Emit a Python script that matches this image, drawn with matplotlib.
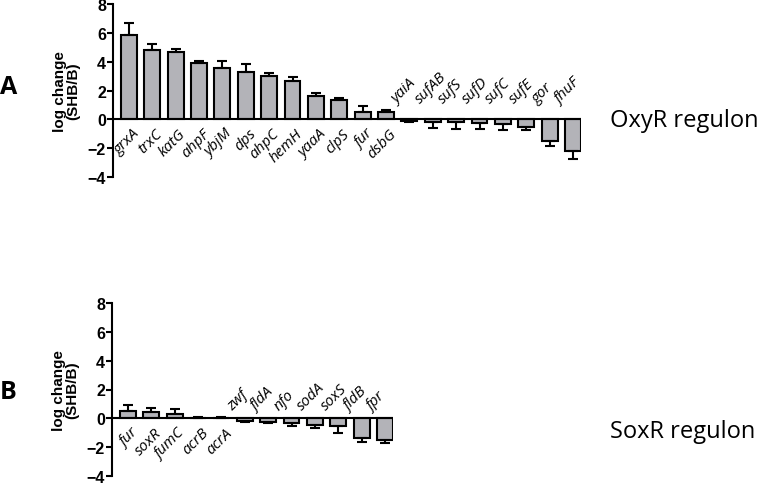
# Regulones OxyR y SoxR - cambio logaritmico SHB/B
import matplotlib
matplotlib.use("Agg")
import matplotlib.pyplot as plt
import numpy as np

# -----------------------------------------
# Datos
# -----------------------------------------
genes_oxyr = ["grxA", "trxC", "katG", "ahpF", "ybjM", "dps", "ahpC", "hemH",
              "yaaA", "clpS", "fur", "dsbG", "yaiA", "sufAB", "sufS", "sufD",
              "sufC", "sufE", "gor", "fhuF"]
valores_oxyr = [5.88, 4.8, 4.7, 3.93, 3.55, 3.28, 3.0, 2.63, 1.62, 1.33, 0.5,
                0.52, -0.12, -0.2, -0.2, -0.25, -0.35, -0.55, -1.49, -2.18]
errores_oxyr = [0.78, 0.42, 0.2, 0.1, 0.5, 0.56, 0.24, 0.29, 0.24, 0.17, 0.42,
                0.1, 0.08, 0.42, 0.45, 0.45, 0.42, 0.17, 0.36, 0.55]

genes_soxr = ["fur", "soxR", "fumC", "acrB", "acrA", "zwf", "fldA", "nfo",
              "sodA", "soxS", "fldB", "fpr"]
valores_soxr = [0.49, 0.44, 0.33, 0.05, 0.03, -0.2, -0.22, -0.33, -0.45,
                -0.55, -1.35, -1.52]
errores_soxr = [0.44, 0.3, 0.3, 0.05, 0.03, 0.08, 0.12, 0.17, 0.22, 0.5,
                0.27, 0.2]

GRIS = "#b3b3b8"
ANCHO = 0.68


def panel(ax, genes, valores, errores, sep_neg):
    x = np.arange(len(genes))
    v = np.array(valores)
    e = np.array(errores)
    abajo = np.where(v < 0, e, 0)
    arriba = np.where(v >= 0, e, 0)
    ax.bar(x, v, width=ANCHO, color=GRIS, edgecolor="black", linewidth=1.5,
           yerr=[abajo, arriba],
           error_kw=dict(ecolor="black", elinewidth=1.5, capsize=3.6,
                         capthick=1.5), zorder=2)
    ax.axhline(0, color="black", linewidth=1.5, zorder=3)
    ax.set_xlim(-0.68, len(genes) - 1 + ANCHO / 2)
    ax.set_ylim(-4, 8)
    ax.set_yticks([-4, -2, 0, 2, 4, 6, 8])
    ax.set_xticks([])
    for s in ["top", "right", "bottom"]:
        ax.spines[s].set_visible(False)
    ax.spines["left"].set_linewidth(1.5)
    ax.tick_params(axis="y", direction="out", length=4, width=1.5,
                   labelsize=11.5, pad=1)
    for lab in ax.get_yticklabels():
        lab.set_fontweight("bold")
        lab.set_family("Liberation Sans")
    ax.set_ylabel("log change\n(SHB/B)", fontsize=11, fontweight="bold",
                  family="Liberation Sans", labelpad=5, linespacing=1.0)
    for i, (g, val) in enumerate(zip(genes, valores)):
        if val >= 0:
            ax.text(i + 0.12, -0.45, g, rotation=45, rotation_mode="anchor",
                    ha="right", va="top", style="italic", fontsize=11,
                    family="Open Sans")
        else:
            ax.text(i - 0.42, sep_neg, g, rotation=45, rotation_mode="anchor",
                    ha="left", va="bottom", style="italic", fontsize=11,
                    family="Open Sans")


fig = plt.figure(figsize=(7.59, 4.85), dpi=100)

ax1 = fig.add_axes([113 / 759, 307 / 485, 468 / 759, 173 / 485])
panel(ax1, genes_oxyr, valores_oxyr, errores_oxyr, 0.9)

ax2 = fig.add_axes([112 / 759, 8 / 485, 281 / 759, 173 / 485])
panel(ax2, genes_soxr, valores_soxr, errores_soxr, 0.35)

fig.text(0.0, 1 - 88 / 485, "A", fontsize=18, fontweight="bold",
         family="Open Sans", va="center", ha="left")
fig.text(0.0, 1 - 393 / 485, "B", fontsize=18, fontweight="bold",
         family="Open Sans", va="center", ha="left")
fig.text(610 / 759, 1 - 121 / 485, "OxyR regulon", fontsize=17,
         family="Open Sans", va="center", ha="left")
fig.text(610 / 759, 1 - 432 / 485, "SoxR regulon", fontsize=17,
         family="Open Sans", va="center", ha="left")

fig.savefig("out.png", dpi=100)
